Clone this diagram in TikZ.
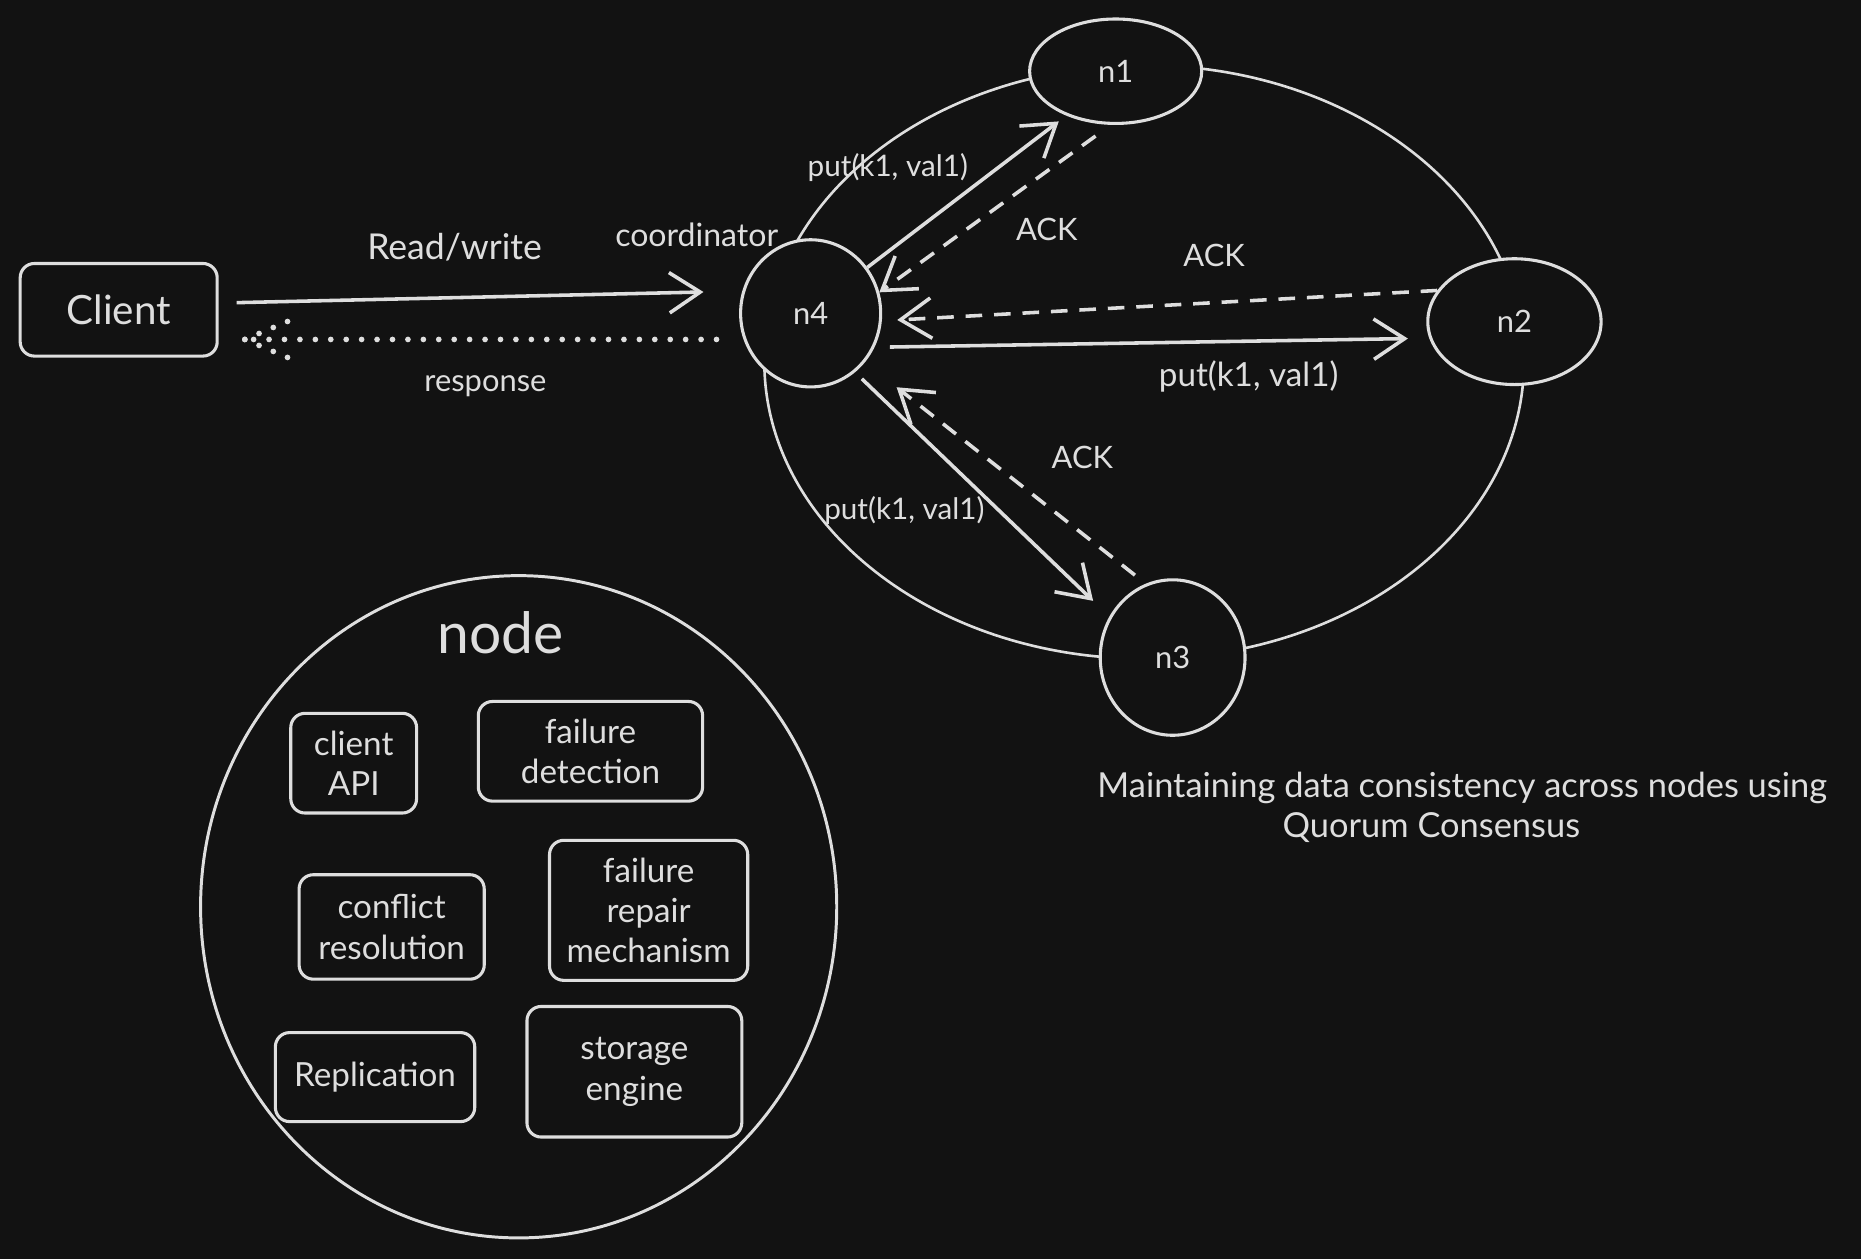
\documentclass[tikz,border=0pt]{standalone}
\usepackage{fontspec}
\setmainfont{Lato}
\usetikzlibrary{shapes.geometric,arrows.meta}
\definecolor{bg}{HTML}{121212}
\definecolor{fg}{HTML}{DEDEDE}
\begin{document}
\begin{tikzpicture}[x=0.5pt,y=-0.5pt,
  ring/.style={draw=fg, line width=1.1pt, ellipse, inner sep=0pt},
  peer/.style={draw=fg, fill=bg, line width=1.3pt, ellipse, inner sep=0pt, text=fg, font=\fontsize{13}{15}\selectfont},
  box/.style={draw=fg, line width=1.3pt, rounded corners=6pt, align=center, inner sep=0pt, text=fg, font=\fontsize{14}{17}\selectfont},
  lbl/.style={text=fg, inner sep=0pt, font=\fontsize{13}{15}\selectfont},
  arr/.style={draw=fg, line width=1.5pt, -{Straight Barb[length=13pt,width=17pt]}},
  ackarr/.style={arr, dash pattern=on 7pt off 5pt},
  dotline/.style={draw=fg, line width=2.4pt, line cap=round, dash pattern=on 0pt off 6.5pt}
]
\fill[bg] (0,0) rectangle (1568,1061);
\useasboundingbox (0,0) rectangle (1568,1061);

% ring of peers
\node[ring, minimum width=320pt, minimum height=250pt] (ringe) at (964,305) {};
\node[peer, minimum width=59pt, minimum height=62pt] (n4) at (683,264) {n4};
\node[peer, minimum width=72.5pt, minimum height=44pt] (n1) at (940,60) {n1};
\node[peer, minimum width=73pt, minimum height=53pt] (n2) at (1276,271) {n2};
\node[peer, minimum width=61pt, minimum height=65.5pt] (n3) at (988,554) {n3};

% client
\node[box, minimum width=83pt, minimum height=39pt, font=\fontsize{17}{20}\selectfont] (client) at (100,261) {Client};

% client <-> coordinator
\draw[arr] ([shift={(15,-6)}]client.east) -- ([shift={(-30,-18)}]n4.west);
\coordinate (resptip) at ([shift={(22,25)}]client.east);
\draw[dotline] ([shift={(-19,22)}]n4.west) -- (resptip);
\draw[dotline] (resptip) -- ++(38,-16);
\draw[dotline] (resptip) -- ++(38,16);

\node[lbl, font=\fontsize{15}{17}\selectfont] (lrw) at (383,208) {Read/write};
\node[lbl] (lresp) at (409,325) {response};
\node[lbl, font=\fontsize{13.5}{16}\selectfont] (lcoord) at (587,198) {coordinator};

% put / ACK arrows
\draw[arr, shorten >=4pt] (n4.39) -- (n1.222);
\draw[ackarr, shorten <=8pt] (n1.265) -- (n4.17);
\draw[ackarr, shorten >=6.5pt] (n2.158) -- (n4.-6);
\draw[arr, shorten <=6.5pt, shorten >=9pt] (n4.-28) -- (n2.191.6);
\draw[arr, shorten <=4pt, shorten >=9.5pt] (n4.-53.8) -- (n3.147);
\draw[ackarr, shorten <=5.8pt, shorten >=17pt] (n3.110) -- (n4.-42.8);

\node[lbl, font=\fontsize{12.5}{15}\selectfont] (lput1) at (748,141) {put(k1, val1)};
\node[lbl] (lack1) at (882,193) {ACK};
\node[lbl] (lack2) at (1023,215) {ACK};
\node[lbl, font=\fontsize{14}{16}\selectfont] (lput2) at (1052,317) {put(k1, val1)};
\node[lbl] (lack3) at (912,385) {ACK};
\node[lbl, font=\fontsize{12.5}{15}\selectfont] (lput3) at (762,430) {put(k1, val1)};

% caption
\node[lbl, font=\fontsize{14.5}{17}\selectfont] (cap1) at (1232,664) {Maintaining data consistency across nodes using};
\node[lbl, font=\fontsize{14.5}{17}\selectfont] (cap2) at (1206,697) {Quorum Consensus};

% node internals
\node[ring, line width=1.25pt, minimum width=268pt, minimum height=279pt] (nodecirc) at (437,764) {};
\node[lbl, font=\fontsize{24}{28}\selectfont] (lnode) at (422,533) {node};
\node[box, minimum width=53pt, minimum height=42pt] (capi) at (298,643) {client\\API};
\node[box, minimum width=94.5pt, minimum height=42pt] (fdet) at (497.5,633) {failure\\detection};
\node[box, minimum width=78pt, minimum height=44pt] (cres) at (330,781) {conflict\\resolution};
\node[box, minimum width=83.5pt, minimum height=59pt] (frep) at (546.5,767) {failure\\repair\\mechanism};
\node[box, minimum width=84pt, minimum height=37.5pt] (repl) at (316,907.5) {Replication};
\node[box, minimum width=90.5pt, minimum height=55pt] (stor) at (534.5,903) {storage\\engine};
\end{tikzpicture}
\end{document}
